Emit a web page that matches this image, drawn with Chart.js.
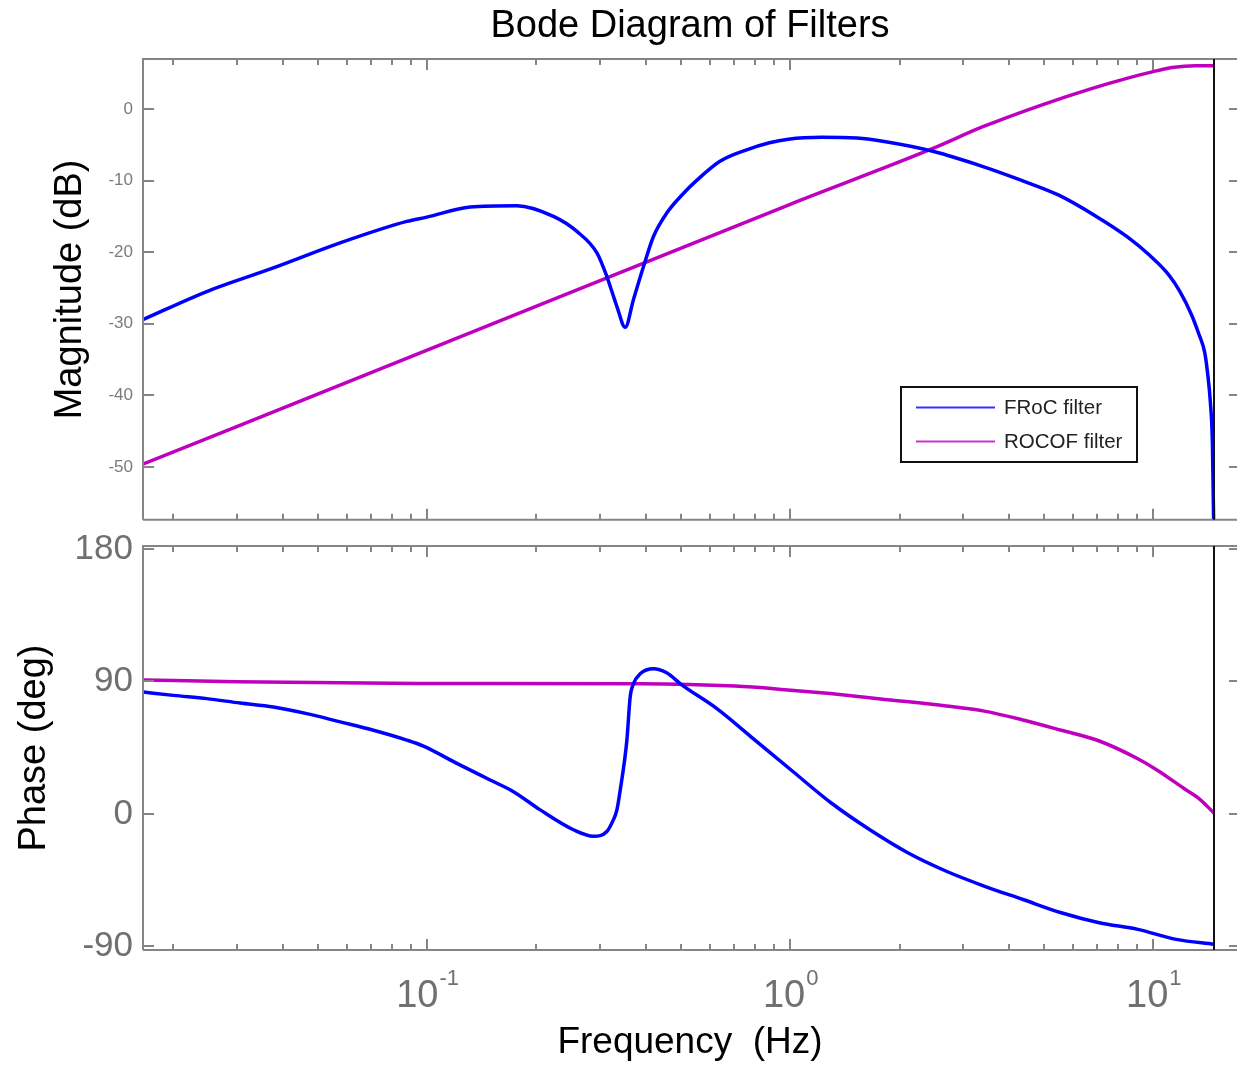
<!DOCTYPE html>
<html>
<head>
<meta charset="utf-8">
<title>Bode Diagram of Filters</title>
<script src="https://cdn.jsdelivr.net/npm/chart.js@4.4.1/dist/chart.umd.min.js"></script>
<style>
  html, body { margin: 0; padding: 0; background: #fff; overflow: hidden; }
  #wrap { position: relative; width: 1237px; height: 1065px; }
  canvas { position: absolute; left: 0; }
  #mag { top: 0; }
  #phase { top: 515px; }
</style>
</head>
<body>
<div id="wrap">
  <canvas id="mag" width="1237" height="540"></canvas>
  <canvas id="phase" width="1237" height="550"></canvas>
</div>
<script>
// frequency range shown (Hz) and last computed frequency
const freqMin = 0.0165;
const freqMax = 17;
const cutoffFreq = 14.7;

// FRoC filter, magnitude (dB)
const frocMagFreq = [0.01654, 0.02472, 0.03772, 0.0576, 0.0879, 0.0998, 0.1314, 0.1767, 0.2228, 0.2585,
  0.2935, 0.3126, 0.3332, 0.3512, 0.3701, 0.3944, 0.4201, 0.4574, 0.5033, 0.5544, 0.6406, 0.7585,
  0.8764, 0.9886, 1.22, 1.526, 1.85, 2.471, 3.38, 4.301, 5.474, 6.966, 8.447, 9.75, 11.0, 11.84,
  12.73, 13.36, 13.85, 14.1, 14.36, 14.55, 14.7];
const frocMagDb = [-29.4, -25.5, -22.2, -18.7, -15.7, -15.1, -13.7, -13.5, -15.0, -17.1,
  -20.1, -23.4, -27.6, -30.5, -26.6, -22.0, -17.8, -14.5, -12.0, -9.9, -7.3, -5.7,
  -4.7, -4.2, -3.95, -4.05, -4.6, -5.9, -8.0, -9.9, -12.0, -15.0, -17.8, -20.4, -23.1, -25.5,
  -28.7, -31.5, -34.0, -36.8, -41, -47, -62];

// ROCOF filter, magnitude (dB)
const rocofMagFreq = [0.01654, 0.1, 1.0, 2.471, 3.38, 4.94, 6.79, 8.45, 9.93, 11.27, 13.06, 14.7];
const rocofMagDb = [-49.6, -33.7, -13.3, -5.5, -2.5, 0.6, 2.9, 4.3, 5.2, 5.8, 6.05, 6.05];

// FRoC filter, phase (deg)
const frocPhaseFreq = [0.01654, 0.02, 0.02472, 0.03053, 0.03772, 0.04663, 0.0576, 0.07115, 0.0879,
  0.09768, 0.1207, 0.1491, 0.1729, 0.2048, 0.2529, 0.2871, 0.3126, 0.3257, 0.3332, 0.3403, 0.3549,
  0.3624, 0.3701, 0.3862, 0.4201, 0.4554, 0.505, 0.628, 0.7998, 1.019, 1.3, 1.657, 2.114, 2.691,
  3.432, 4.375, 5.579, 7.099, 9.064, 11.56, 14.7];
const frocPhaseDeg = [82.8, 80.5, 78.3, 75.3, 72.6, 68.1, 62.5, 56.8, 50.1,
  46.0, 34.3, 23.0, 15.1, 2.7, -10.8, -15.2, -12.0, -4.1, 2.7, 16.2, 50,
  79.4, 88.4, 95.2, 98.6, 96.0, 87.3, 71.5, 50.1, 28.6, 7.2, -10.8, -26.6, -39.0,
  -49.2, -58.2, -67.2, -74.0, -78.5, -85.3, -88.6];

// ROCOF filter, phase (deg)
const rocofPhaseFreq = [0.01654, 0.0299, 0.0944, 0.386, 0.7055, 0.9652, 1.289, 1.85, 2.691, 3.422,
  4.375, 5.579, 7.099, 9.064, 10.23, 12.12, 13.36, 14.7];
const rocofPhaseDeg = [91.0, 89.8, 88.6, 88.4, 86.8, 84.4, 81.7, 77.6, 73.3, 69.8,
  63.8, 56.8, 49.5, 37.4, 29.8, 17.4, 10.4, 0.5];

// tick values
const magTicks = [-50, -40, -30, -20, -10, 0];
const phaseTicks = [-90, 0, 90, 180];
const decadeTicks = [0.1, 1, 10];
const decadeExps = ['-1', '0', '1'];

const seriesNames = ['FRoC filter', 'ROCOF filter'];
const seriesColors = ['#0000ff', '#bf00bf'];

const FONT = '"Liberation Sans", Arial, Helvetica, sans-serif';
Chart.defaults.font.family = FONT;

const pts = (xs, ys) => xs.map((x, i) => ({ x: x, y: ys[i] }));

function makeDataset(i, xs, ys) {
  return {
    label: seriesNames[i],
    data: pts(xs, ys),
    borderColor: seriesColors[i],
    borderWidth: 3.5,
    pointRadius: 0,
    cubicInterpolationMode: 'monotone',
    fill: false,
    clip: 0
  };
}

// minor tick positions 2..9 x 10^k inside the axis range
function logTicks() {
  const out = [];
  for (let k = -2; k <= 1; k++) {
    for (let m = 1; m <= 9; m++) {
      const v = m * Math.pow(10, k);
      if (v >= freqMin && v <= freqMax) out.push({ v: v, major: m === 1 });
    }
  }
  return out;
}

// gray box frame with inward ticks, plus the black line at the last frequency
const framePlugin = {
  id: 'frame',
  afterDatasetsDraw(chart) {
    const { ctx, chartArea: a, scales } = chart;
    ctx.save();
    ctx.strokeStyle = '#858585';
    ctx.lineWidth = 2;
    ctx.beginPath();
    ctx.moveTo(a.left, a.bottom);
    ctx.lineTo(a.left, a.top);
    ctx.lineTo(a.right, a.top);
    ctx.moveTo(a.left, a.bottom);
    ctx.lineTo(a.right, a.bottom);
    // x ticks top and bottom
    logTicks().forEach(t => {
      const px = Math.round(scales.x.getPixelForValue(t.v));
      const len = t.major ? 11 : 6;
      ctx.moveTo(px, a.bottom);
      ctx.lineTo(px, a.bottom - len);
      ctx.moveTo(px, a.top);
      ctx.lineTo(px, a.top + len);
    });
    // y ticks left and right
    scales.y.ticks.forEach(t => {
      const py = Math.round(scales.y.getPixelForValue(t.value));
      ctx.moveTo(a.left, py);
      ctx.lineTo(a.left + 11, py);
      ctx.moveTo(a.right, py);
      ctx.lineTo(a.right - 8, py);
    });
    ctx.stroke();

    const cx = Math.round(scales.x.getPixelForValue(cutoffFreq));
    ctx.strokeStyle = '#111';
    ctx.beginPath();
    ctx.moveTo(cx, a.top);
    ctx.lineTo(cx, a.bottom);
    ctx.stroke();
    ctx.restore();
  }
};

// boxed legend inside the magnitude plot
const legendPlugin = {
  id: 'boxLegend',
  afterDatasetsDraw(chart) {
    const ctx = chart.ctx;
    const box = { x: 901, y: 387, w: 236, h: 75 };
    ctx.save();
    ctx.fillStyle = '#fff';
    ctx.fillRect(box.x, box.y, box.w, box.h);
    ctx.strokeStyle = '#111';
    ctx.lineWidth = 2;
    ctx.strokeRect(box.x, box.y, box.w, box.h);
    ctx.font = '20.5px ' + FONT;
    ctx.textBaseline = 'middle';
    ctx.textAlign = 'left';
    chart.data.datasets.forEach((ds, i) => {
      const y = box.y + 20.5 + i * 34;
      ctx.strokeStyle = ds.borderColor;
      ctx.globalAlpha = 0.8;
      ctx.lineWidth = 2;
      ctx.beginPath();
      ctx.moveTo(box.x + 15, y);
      ctx.lineTo(box.x + 94, y);
      ctx.stroke();
      ctx.globalAlpha = 1;
      ctx.fillStyle = '#222';
      ctx.fillText(ds.label, box.x + 103, y + 1);
    });
    ctx.restore();
  }
};

// 10^k labels under the frequency axis
const decadeLabelPlugin = {
  id: 'decadeLabels',
  afterDraw(chart) {
    const { ctx, chartArea: a, scales } = chart;
    ctx.save();
    ctx.fillStyle = '#707070';
    ctx.textBaseline = 'alphabetic';
    ctx.textAlign = 'left';
    decadeTicks.forEach((v, i) => {
      const px = scales.x.getPixelForValue(v);
      ctx.font = '38px ' + FONT;
      const wb = ctx.measureText('10').width;
      ctx.font = '22px ' + FONT;
      const we = ctx.measureText(decadeExps[i]).width;
      const x0 = px - (wb + we) / 2;
      ctx.font = '38px ' + FONT;
      ctx.fillText('10', x0, a.bottom + 57);
      ctx.font = '22px ' + FONT;
      ctx.fillText(decadeExps[i], x0 + wb + 1, a.bottom + 35);
    });
    ctx.restore();
  }
};

const magChart = new Chart(document.getElementById('mag'), {
  type: 'line',
  data: {
    datasets: [
      makeDataset(0, frocMagFreq, frocMagDb),
      makeDataset(1, rocofMagFreq, rocofMagDb)
    ]
  },
  options: {
    responsive: false,
    animation: false,
    events: [],
    layout: { padding: { left: 0, right: 0, top: 0, bottom: 19 } },
    plugins: {
      legend: { display: false },
      tooltip: { enabled: false },
      title: {
        display: true,
        text: 'Bode Diagram of Filters',
        fullSize: false,
        color: '#000',
        font: { size: 38, weight: 'normal' },
        padding: { top: 4, bottom: 9.4 }
      }
    },
    scales: {
      x: { type: 'logarithmic', min: freqMin, max: freqMax, display: false },
      y: {
        min: -57.4,
        max: 7,
        afterBuildTicks: s => { s.ticks = magTicks.map(v => ({ value: v })); },
        afterFit: s => { s.width = 143; },
        grid: { display: false, drawTicks: false },
        border: { display: false },
        ticks: { color: '#7b7b7b', font: { size: 17 }, padding: 10 },
        title: {
          display: true,
          text: 'Magnitude (dB)',
          color: '#000',
          font: { size: 38 },
          padding: { top: 48, bottom: 0 }
        }
      }
    }
  },
  plugins: [framePlugin, legendPlugin]
});

const phaseChart = new Chart(document.getElementById('phase'), {
  type: 'line',
  data: {
    datasets: [
      makeDataset(0, frocPhaseFreq, frocPhaseDeg),
      makeDataset(1, rocofPhaseFreq, rocofPhaseDeg)
    ]
  },
  options: {
    responsive: false,
    animation: false,
    events: [],
    layout: { padding: { left: 0, right: 0, top: 30, bottom: 0 } },
    plugins: {
      legend: { display: false },
      tooltip: { enabled: false },
      title: { display: false }
    },
    scales: {
      x: {
        type: 'logarithmic',
        min: freqMin,
        max: freqMax,
        afterFit: s => { s.height = 115; },
        grid: { display: false, drawTicks: false },
        border: { display: false },
        ticks: { display: false },
        title: {
          display: true,
          text: 'Frequency  (Hz)',
          color: '#000',
          font: { size: 37 },
          padding: { top: 0, bottom: 0 }
        }
      },
      y: {
        min: -92.5,
        max: 182,
        afterBuildTicks: s => { s.ticks = phaseTicks.map(v => ({ value: v })); },
        afterFit: s => { s.width = 143; },
        grid: { display: false, drawTicks: false },
        border: { display: false },
        ticks: { color: '#707070', font: { size: 35 }, padding: 10 },
        title: {
          display: true,
          text: 'Phase (deg)',
          color: '#000',
          font: { size: 38 },
          padding: { top: 12, bottom: 0 }
        }
      }
    }
  },
  plugins: [framePlugin, decadeLabelPlugin]
});
</script>
</body>
</html>
